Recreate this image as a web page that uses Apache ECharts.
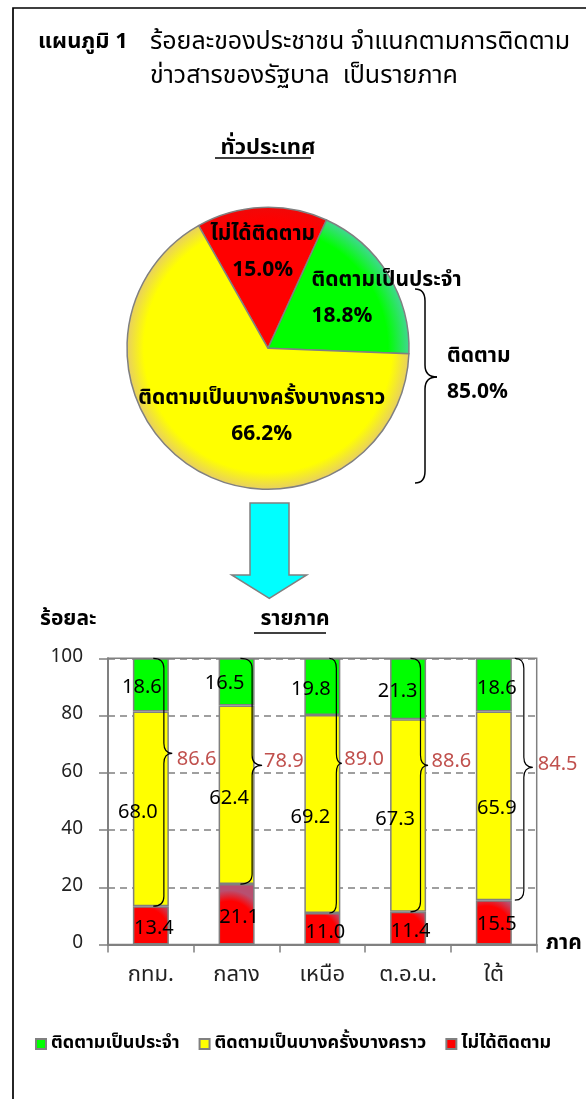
<!DOCTYPE html>
<html>
<head>
<meta charset="utf-8">
<script src="https://cdn.jsdelivr.net/npm/echarts@6/dist/echarts.min.js"></script>
<style>
html,body{margin:0;padding:0;background:#fff;}
#c{width:586px;height:1099px;}
</style>
</head>
<body>
<div id="c"></div>
<script>
// ---------- data ----------
const categories = ['กทม.', 'กลาง', 'เหนือ', 'ต.อ.น.', 'ใต้'];
const regularValues = [18.6, 16.5, 19.8, 21.3, 18.6];
const sometimesValues = [68.0, 62.4, 69.2, 67.3, 65.9];
const notFollowValues = [13.4, 21.1, 11.0, 11.4, 15.5];
const followTotals = [86.6, 78.9, 89.0, 88.6, 84.5];
const yTickValues = [0, 20, 40, 60, 80, 100];
const pieNames = ['ไม่ได้ติดตาม', 'ติดตามเป็นประจำ', 'ติดตามเป็นบางครั้งบางคราว'];
const pieValues = [15.0, 18.8, 66.2];
const pieFollowTotal = 85.0;
const seriesNames = ['ติดตามเป็นประจำ', 'ติดตามเป็นบางครั้งบางคราว', 'ไม่ได้ติดตาม'];

// ---------- layout / style ----------
const FONT = "Tahoma, 'Noto Sans Thai', 'Noto Sans', 'DejaVu Sans', sans-serif";
const PIE_C = [268, 348.3], PIE_R = 141;
const greenOff = [[-9,4],[-12,3],[-11.5,4],[-10.5,4],[3,5]];
const yellowOff = [[-13,5],[-7.5,5],[-12,5],[-13,5],[3,4]];
const redOff = [[3,5],[2.5,5],[3,5],[2.5,4.5],[3,4]];
// brace: start, vertical, tip x-offsets from bar centre; tip value; label gap; label dy
const braceLayout = [
  {s:2.4, v:13, t:21.4, tip:66.8, g:4.5, dy:8},
  {s:3.8, v:15.5, t:25.5, tip:62.6, g:2, dy:-2},
  {s:7, v:14, t:19.5, tip:63.3, g:2.5, dy:-2},
  {s:2.4, v:12.4, t:20, tip:62.6, g:3.5, dy:-2},
  {s:21, v:30, t:39, tip:61.9, g:5, dy:-1}
];
const pieLabelLayout = [
  {offset:[-2,-21.6], align:'center'},
  {offset:[-19,-10], align:'left'},
  {offset:[32,6.8], align:'center'}
];

function radial(inner, outer, stop) {
  return new echarts.graphic.RadialGradient(PIE_C[0], PIE_C[1], PIE_R,
    [{offset:0,color:inner},{offset:stop,color:inner},{offset:1,color:outer}], true);
}
const redBarFill = new echarts.graphic.RadialGradient(0.3, 0.7, 1.0,
  [{offset:0,color:'#FF0000'},{offset:0.7,color:'#FF0000'},{offset:1,color:'#B85070'}]);

function barData(vals, offs) {
  return vals.map((v, i) => ({value: v, label: {offset: offs[i]}}));
}

function quad(x1, y1, cx, cy, x2, y2) {
  return {type:'bezierCurve', silent:true, shape:{x1:x1, y1:y1, cpx1:cx, cpy1:cy, x2:x2, y2:y2},
    style:{fill:null, stroke:'#000', lineWidth:1.5}};
}
function seg(x1, y1, x2, y2) {
  return {type:'line', silent:true, shape:{x1:x1, y1:y1, x2:x2, y2:y2}, style:{stroke:'#000', lineWidth:1.5}};
}

const chart = echarts.init(document.getElementById('c'), null, {renderer:'canvas'});

const option = {
  animation: false,
  textStyle: {fontFamily: FONT},
  title: [
    {text:'แผนภูมิ 1', left:33, top:28, textStyle:{fontFamily:FONT, fontSize:22, fontWeight:'bold', color:'#000'}},
    {text:'ร้อยละของประชาชน จำแนกตามการติดตาม\nข่าวสารของรัฐบาล  เป็นรายภาค', left:145, top:22,
     textStyle:{fontFamily:FONT, fontSize:25, fontWeight:'normal', color:'#000', lineHeight:34}},
    {text:'ทั่วประเทศ', left:263, top:134, textAlign:'center', textStyle:{fontFamily:FONT, fontSize:22, fontWeight:'bold', color:'#000'}},
    {text:'ร้อยละ', left:35, top:605, textStyle:{fontFamily:FONT, fontSize:21, fontWeight:'bold', color:'#000'}},
    {text:'รายภาค', left:290, top:605, textAlign:'center', textStyle:{fontFamily:FONT, fontSize:21, fontWeight:'bold', color:'#000'}},
    {text:'ติดตาม\n' + pieFollowTotal.toFixed(1) + '%', left:442, top:335,
     textStyle:{fontFamily:FONT, fontSize:21, fontWeight:'bold', color:'#000', lineHeight:36}}
  ],
  legend: {
    data: seriesNames, left: 30, top: 1030, itemWidth: 10, itemHeight: 10, itemGap: 19, icon: 'rect',
    textStyle: {fontFamily: FONT, fontSize: 18, fontWeight: 'bold', color: '#000'}
  },
  grid: {left:108, right:49.3, top:658.3, bottom:154.5, show:true, borderColor:'#808080', borderWidth:1.5, containLabel:false},
  xAxis: {
    type:'category', data:categories,
    name:'ภาค', nameLocation:'end', nameGap:9,
    nameTextStyle:{fontFamily:FONT, fontSize:21, fontWeight:'bold', color:'#000', verticalAlign:'middle'},
    axisLine:{lineStyle:{color:'#808080', width:2}},
    axisTick:{show:true, length:8, lineStyle:{color:'#808080', width:1.5}},
    axisLabel:{fontFamily:FONT, fontSize:22, color:'#222', margin:21}
  },
  yAxis: {
    type:'value', min:yTickValues[0], max:yTickValues[yTickValues.length-1], interval:yTickValues[1]-yTickValues[0],
    axisLine:{show:true, lineStyle:{color:'#808080', width:2}},
    axisTick:{show:true, length:9, lineStyle:{color:'#808080', width:1.5}},
    axisLabel:{fontFamily:FONT, fontSize:19, color:'#222', margin:25},
    splitLine:{show:true, lineStyle:{color:'#808080', width:1.5, type:[7,5]}}
  },
  series: [
    {
      type:'pie', center:PIE_C, radius:PIE_R, startAngle:119.5, clockwise:true,
      avoidLabelOverlap:false, labelLine:{show:false}, emphasis:{disabled:true}, silent:true,
      data: pieNames.map((n, i) => ({
        name:n, value:pieValues[i],
        itemStyle:{color:[radial('#FF0000','#F00808',0.9), radial('#00FF00','#40D890',0.85), radial('#FFFF00','#E8D060',0.88)][i]},
        label:{offset:pieLabelLayout[i].offset}
      })),
      itemStyle:{borderColor:'#808080', borderWidth:1.5},
      label:{show:true, position:'inside', rotate:0, fontFamily:FONT, fontSize:21, fontWeight:'bold', color:'#000', lineHeight:36,
        formatter: p => p.name + '\n' + p.value.toFixed(1) + '%'},
      labelLayout: function(p) {
        const L = pieLabelLayout[p.dataIndex];
        if (L.align === 'left') {
          return {hideOverlap:false, align:'left', verticalAlign:'middle',
            x: p.labelRect.x + p.labelRect.width / 2, y: p.labelRect.y + p.labelRect.height / 2};
        }
        return {hideOverlap:false};
      }
    },
    {
      name:seriesNames[2], type:'bar', stack:'s', barWidth:36,
      data: barData(notFollowValues, redOff),
      itemStyle:{color:redBarFill, borderColor:'#808080', borderWidth:1.5},
      label:{show:true, position:'inside', fontFamily:FONT, fontSize:20, color:'#000', formatter:p=>p.value.toFixed(1)}
    },
    {
      name:seriesNames[1], type:'bar', stack:'s', barWidth:36,
      data: barData(sometimesValues, yellowOff),
      itemStyle:{color:'#FFFF00', borderColor:'#808080', borderWidth:1.5},
      label:{show:true, position:'inside', fontFamily:FONT, fontSize:20, color:'#000', formatter:p=>p.value.toFixed(1)}
    },
    {
      name:seriesNames[0], type:'bar', stack:'s', barWidth:36,
      data: barData(regularValues, greenOff),
      itemStyle:{color:'#00FF00', borderColor:'#808080', borderWidth:1.5},
      label:{show:true, position:'inside', fontFamily:FONT, fontSize:20, color:'#000', formatter:p=>p.value.toFixed(1)}
    },
    {
      type:'custom', silent:true, z:10,
      data: categories.map((c, i) => [i, notFollowValues[i], braceLayout[i].tip, followTotals[i]]),
      renderItem: function(params, api) {
        const i = api.value(0);
        const L = braceLayout[i];
        const cx = api.coord([i, 0])[0];
        const yTop = api.coord([i, 100])[1];
        const yBot = api.coord([i, api.value(1)])[1];
        const yTip = api.coord([i, api.value(2)])[1];
        const xs = cx + L.s, xv = cx + L.v, xt = cx + L.t, r = 10;
        const d = 'M' + xs + ',' + yTop + ' Q' + xv + ',' + yTop + ' ' + xv + ',' + (yTop + r) +
                  ' L' + xv + ',' + (yTip - r) + ' Q' + xv + ',' + yTip + ' ' + xt + ',' + yTip +
                  ' Q' + xv + ',' + yTip + ' ' + xv + ',' + (yTip + r) +
                  ' L' + xv + ',' + (yBot - r) + ' Q' + xv + ',' + yBot + ' ' + xs + ',' + yBot;
        return {type:'group', children:[
          {type:'path', shape:{pathData:d}, style:{fill:null, stroke:'#000', lineWidth:1.2}},
          {type:'text', x:xt + L.g, y:yTip + L.dy, style:{text:api.value(3).toFixed(1), fill:'#C0504D',
            font:'20px ' + FONT, textAlign:'left', textVerticalAlign:'middle'}}
        ]};
      }
    }
  ],
  graphic: [
    {type:'rect', silent:true, shape:{x:13, y:8, width:800, height:1300}, style:{fill:null, stroke:'#000', lineWidth:1.7}},
    seg(215, 158, 311, 158),
    seg(254, 633, 326, 633),
    {type:'polygon', silent:true, shape:{points:[[250,503],[289,503],[289,575],[306.7,575],[269.3,598.3],[231.7,575],[250,575]]},
     style:{fill:'#00FFFF', stroke:'#808080', lineWidth:1.5}},
    quad(415, 289, 425, 289, 425, 301),
    seg(425, 301, 425, 365),
    quad(425, 365, 425, 377, 437, 377),
    quad(437, 377, 425, 377, 425, 389),
    seg(425, 389, 425, 471),
    quad(425, 471, 425, 483, 415, 483)
  ]
};
chart.setOption(option);
</script>
</body>
</html>
